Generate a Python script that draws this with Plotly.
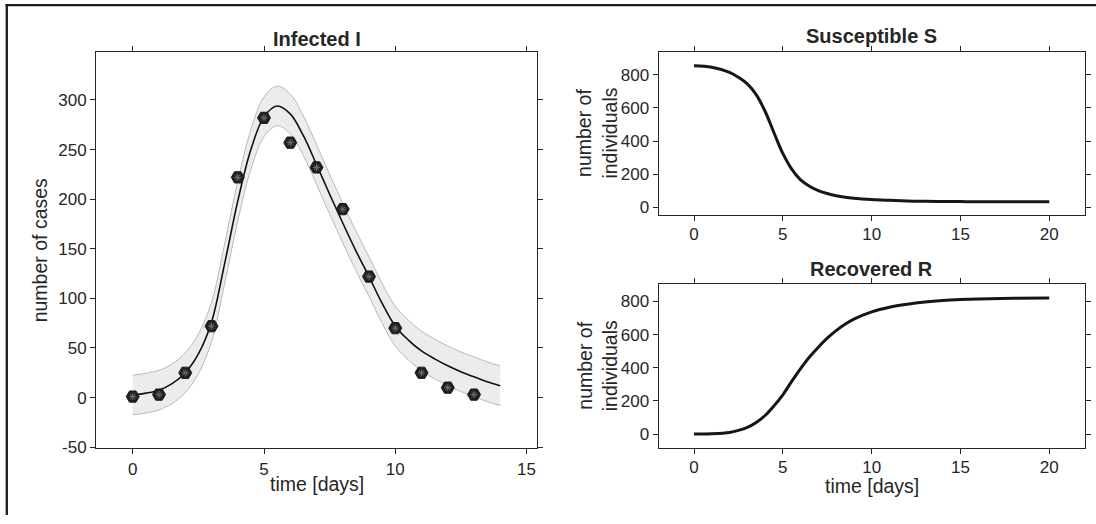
"""SIR fit: infected data with fitted curve and band, plus S and R trajectories."""
import plotly.graph_objects as go

W, H = 1096, 524
FONT = "Liberation Sans, Arial, Helvetica, sans-serif"
INK = "#262626"

# --- infected: observed counts and fitted curve with band ---
days_obs = [0, 1, 2, 3, 4, 5, 6, 7, 8, 9, 10, 11, 12, 13]
infected_obs = [1, 3, 25, 72, 222, 282, 257, 232, 190, 122, 70, 25, 10, 3]

t_fit = [0, 0.5, 1, 1.5, 2, 2.5, 3, 3.5, 4, 4.5, 5, 5.5, 6, 6.5, 7,
         7.5, 8, 8.5, 9, 9.5, 10, 10.5, 11, 11.5, 12, 12.5, 13, 13.5, 14]
infected_fit = [2.6, 4.5, 7.5, 14, 25, 44, 76, 135, 198, 250, 283, 294, 286, 264, 235,
                205, 176, 148, 122, 95, 72, 58, 47, 39, 32, 26, 21, 16, 12]
band_upper = [22.6, 24.5, 27.5, 34, 45, 64, 96, 155, 218, 270, 303, 314, 306, 284, 255,
              225, 196, 168, 142, 115, 92, 78, 67, 59, 52, 46, 41, 36, 32]
band_lower = [-17.4, -15.5, -12.5, -6, 5, 24, 56, 115, 178, 230, 263, 274, 266, 244, 215,
              185, 156, 128, 102, 75, 52, 38, 27, 19, 12, 6, 1, -4, -8]

# --- susceptible / recovered trajectories ---
t_sr = [0, 1, 2, 2.5, 3, 3.5, 4, 4.5, 5, 5.5, 6, 6.5, 7, 7.5, 8, 8.5, 9, 10,
        11, 12, 13, 14, 15, 16, 18, 20]
susceptible = [855, 846, 815, 785, 745, 680, 580, 450, 325, 230, 165, 127, 100, 83, 70, 61,
               55, 47, 42, 38, 36, 35, 34, 33.5, 33, 33]
recovered = [0, 2, 10, 22, 40, 70, 112, 170, 237, 318, 395, 465, 524, 578, 624, 662,
             693, 737, 765, 783, 796, 805, 811, 815, 819, 821]

left_yticks = [-50, 0, 50, 100, 150, 200, 250, 300]
left_xticks = [0, 5, 10, 15]
right_xticks = [0, 5, 10, 15, 20]
right_yticks = [0, 200, 400, 600, 800]


def px(x):
    return x / W


def py(y):
    return 1 - y / H


fig = go.Figure()

# band (lower edge, then upper edge filled down to it)
fig.add_trace(go.Scatter(x=t_fit, y=band_lower, mode="lines",
                         line=dict(color="#b9b9b9", width=1, shape="spline"),
                         xaxis="x", yaxis="y", hoverinfo="skip"))
fig.add_trace(go.Scatter(x=t_fit, y=band_upper, mode="lines", fill="tonexty",
                         fillcolor="#ececec",
                         line=dict(color="#b9b9b9", width=1, shape="spline"),
                         xaxis="x", yaxis="y", hoverinfo="skip"))
fig.add_trace(go.Scatter(x=t_fit, y=infected_fit, mode="lines",
                         line=dict(color="#111111", width=1.6, shape="spline"),
                         xaxis="x", yaxis="y"))
fig.add_trace(go.Scatter(x=days_obs, y=infected_obs, mode="markers",
                         marker=dict(symbol="hexagon2", size=13, color="#1e1e1e",
                                     line=dict(color="#1e1e1e", width=1)),
                         xaxis="x", yaxis="y"))
fig.add_trace(go.Scatter(x=days_obs, y=infected_obs, mode="markers",
                         marker=dict(symbol="asterisk-open", size=6, color="#6e6e6e",
                                     line=dict(color="#6e6e6e", width=1)),
                         xaxis="x", yaxis="y", hoverinfo="skip"))

fig.add_trace(go.Scatter(x=t_sr, y=susceptible, mode="lines",
                         line=dict(color="#161616", width=3, shape="spline"),
                         xaxis="x2", yaxis="y2"))
fig.add_trace(go.Scatter(x=t_sr, y=recovered, mode="lines",
                         line=dict(color="#161616", width=3, shape="spline"),
                         xaxis="x3", yaxis="y3"))

axis_style = dict(showgrid=False, zeroline=False, showline=True, linecolor=INK,
                  linewidth=1, mirror="ticks", ticks="outside", ticklen=5,
                  tickcolor=INK, tickwidth=1, tickfont=dict(size=17, color=INK))

fig.update_layout(
    width=W, height=H,
    margin=dict(l=0, r=0, t=0, b=0),
    paper_bgcolor="white", plot_bgcolor="white",
    showlegend=False,
    font=dict(family=FONT, color=INK),
    xaxis=dict(domain=[px(96), px(537)], range=[-1.4, 15.4], anchor="y",
               tickvals=left_xticks, **axis_style),
    yaxis=dict(domain=[py(456), py(53.3)], range=[-51, 348], anchor="x",
               tickvals=left_yticks, ticktext=[str(v) for v in left_yticks],
               **axis_style),
    xaxis2=dict(domain=[px(658.5), px(1084.8)], range=[-2, 22], anchor="y2",
                tickvals=right_xticks, ticklabelstandoff=-2, **axis_style),
    yaxis2=dict(domain=[py(219.2), py(52.5)], range=[-49.5, 940.5], anchor="x2",
                tickvals=right_yticks, **axis_style),
    xaxis3=dict(domain=[px(658.5), px(1084.8)], range=[-2, 22], anchor="y3",
                tickvals=right_xticks, ticklabelstandoff=-2, **axis_style),
    yaxis3=dict(domain=[py(456), py(289.3)], range=[-85, 903], anchor="x3",
                tickvals=right_yticks, **axis_style),
)

# titles and axis labels
texts = [
    ("<b>Infected I</b>", 316.5, 40, 20, 0),
    ("<b>Susceptible S</b>", 871.6, 37, 20, 0),
    ("<b>Recovered R</b>", 871.6, 274, 20, 0),
    ("time [days]", 316.5, 492.5, 19.5, 0),
    ("time [days]", 871.6, 494.5, 19.5, 0),
    ("number of cases", 40, 254.7, 19.5, -90),
    ("number of<br>individuals", 597, 135.9, 19.5, -90),
    ("number of<br>individuals", 597, 372.7, 19.5, -90),
]
for text, x, y, size, angle in texts:
    fig.add_annotation(text=text, x=px(x), y=py(y), xref="paper", yref="paper",
                       xanchor="center", yanchor="middle", showarrow=False,
                       textangle=angle, font=dict(size=size, color=INK, family=FONT))

# figure frame (top and left edges visible)
fig.add_shape(type="line", xref="paper", yref="paper",
              x0=px(5.5), x1=1, y0=py(5.3), y1=py(5.3),
              line=dict(color="#1a1a1a", width=2.3))
fig.add_shape(type="line", xref="paper", yref="paper",
              x0=px(6.8), x1=px(6.8), y0=0, y1=py(4.2),
              line=dict(color="#1a1a1a", width=2.3))

page_fix = (
    "var h = document.documentElement, b = document.body;"
    "h.style.margin = b.style.margin = h.style.padding = b.style.padding = '0';"
    "h.style.height = b.style.height = '524px';"
    "h.style.overflow = b.style.overflow = 'hidden';"
)
fig.write_html("out.html", config={"displayModeBar": False}, post_script=page_fix)
